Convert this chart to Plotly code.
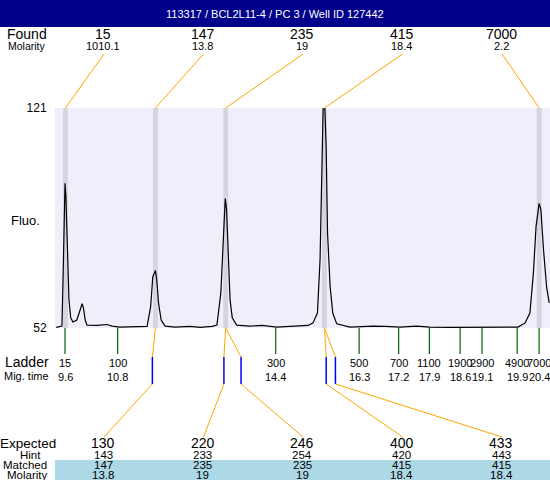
import plotly.graph_objects as go

TITLE = "113317 / BCL2L11-4 / PC 3 / Well ID 127442"

# Electropherogram trace (migration time, fluorescence)
mig_time = [9.40, 9.53, 9.56, 9.60, 9.62, 9.66, 9.69, 9.73, 9.78, 9.87,
            9.94, 9.99, 10.02, 10.06, 10.10, 10.33, 10.56, 10.67, 10.85, 11.20,
            11.47, 11.55, 11.60, 11.66, 11.69, 11.73, 11.79, 11.88, 12.11, 12.45,
            12.68, 12.95, 13.06, 13.15, 13.21, 13.25, 13.28, 13.32, 13.36, 13.41,
            13.51, 13.81, 14.09, 14.42, 14.95, 15.14, 15.25, 15.35, 15.41, 15.45,
            15.48, 15.52, 15.55, 15.58, 15.64, 15.70, 15.79, 16.09, 16.62, 16.89,
            17.23, 17.61, 17.91, 18.37, 18.94, 19.51, 19.92, 20.08, 20.19, 20.27,
            20.33, 20.40, 20.44, 20.50, 20.57, 20.63]
fluo = [52.2, 52.6, 70.3, 97.4, 93.3, 77.5, 60.8, 55.2, 53.9, 54.5,
        57.7, 59.6, 58.3, 54.5, 52.9, 52.8, 53.1, 52.6, 52.3, 52.3,
        52.5, 58.6, 68.1, 70.0, 67.1, 59.9, 54.5, 52.6, 52.3, 52.5,
        52.2, 52.5, 52.9, 63.0, 79.7, 92.6, 89.2, 73.4, 60.8, 55.2,
        52.9, 52.6, 52.8, 52.3, 52.6, 52.8, 53.6, 56.7, 73.4, 96.4,
        120.7, 120.7, 108.1, 81.9, 64.9, 56.7, 53.3, 52.3, 52.6, 52.5,
        52.3, 52.6, 52.3, 52.2, 52.2, 52.2, 52.3, 53.6, 56.7, 69.3,
        83.8, 91.1, 89.2, 76.6, 64.9, 59.9]

found_size = ["15", "147", "235", "415", "7000"]
found_molarity = ["1010.1", "13.8", "19", "18.4", "2.2"]
found_time = [9.61, 11.66, 13.26, 15.51, 20.40]

ladder_size = ["15", "100", "300", "500", "700", "1100", "1900", "2900", "4900", "7000"]
ladder_time = [9.6, 10.8, 14.4, 16.3, 17.2, 17.9, 18.6, 19.1, 19.9, 20.4]

expected_size = ["130", "220", "246", "400", "433"]
hint_size = ["143", "233", "254", "420", "443"]
matched_size = ["147", "235", "235", "415", "415"]
matched_molarity = ["13.8", "19", "19", "18.4", "18.4"]
expected_time = [11.59, 13.22, 13.61, 15.55, 15.76]
matched_found = [1, 2, 2, 3, 3]

Y_TICKS = [52, 121]
X_RANGE = [9.372, 20.648]

# ---- layout helpers (pixel layout positions -> paper / axis units) ----
W, H = 550, 480
L, R, T, B = 55, 0, 108, 152
PW, PH = W - L - R, H - T - B
SLOT_X = [103, 202.5, 302, 401.5, 501]


def py(y):
    return (H - B - y) / PH


def px(x):
    return (x - L) / PW


def px_t(x):
    return X_RANGE[0] + (x - L) / PW * (X_RANGE[1] - X_RANGE[0])


FONT = "Liberation Sans, Arial, sans-serif"
ORANGE = "#FFA500"

fig = go.Figure()
fig.add_trace(go.Scatter(x=mig_time, y=fluo, mode="lines",
                         line=dict(color="black", width=1.2),
                         hoverinfo="skip", showlegend=False))

shapes = []
annots = []

# header bar
shapes.append(dict(type="rect", xref="paper", yref="paper", x0=px(0), x1=px(W),
                   y0=py(0), y1=py(27), fillcolor="#00008B", line=dict(width=0), layer="above"))
annots.append(dict(text=TITLE, xref="paper", yref="paper", x=px(275), y=py(14),
                   xanchor="center", yanchor="middle",
                   showarrow=False, font=dict(color="white", size=11, family=FONT)))

# light blue band (matched / molarity rows)
shapes.append(dict(type="rect", xref="paper", yref="paper", x0=px(55), x1=px(W),
                   y0=py(460), y1=py(480), fillcolor="#ADD8E6", line=dict(width=0), layer="below"))

# grey bands at found peaks
for t in found_time:
    shapes.append(dict(type="rect", xref="x", yref="paper", x0=t - 0.055, x1=t + 0.055,
                       y0=0, y1=1, fillcolor="#D5D5E1", line=dict(width=0), layer="below"))


def lab(text, x, y, size, xanchor="center"):
    annots.append(dict(text=text, xref="paper", yref="paper", x=px(x), y=py(y),
                       xanchor=xanchor, yanchor="middle", showarrow=False,
                       font=dict(color="black", size=size, family=FONT)))


# top labels and connectors
lab("Found", 27, 34, 14)
lab("Molarity", 27, 46, 10.5)
for i, t in enumerate(found_time):
    lab(found_size[i], SLOT_X[i], 34, 14)
    lab(found_molarity[i], SLOT_X[i], 46, 11)
    shapes.append(dict(type="line", xref="x", yref="paper", x0=px_t(SLOT_X[i] + 1), y0=py(54),
                       x1=t, y1=1, line=dict(color=ORANGE, width=1)))

# ladder ticks and labels
lab("Ladder", 27, 362, 14)
lab("Mig. time", 26, 376, 11)
for s, t in zip(ladder_size, ladder_time):
    shapes.append(dict(type="line", xref="x", yref="paper", x0=t, x1=t, y0=0, y1=py(354),
                       line=dict(color="#006400", width=1.2)))
    annots.append(dict(text=s, xref="x", yref="paper", x=t, y=py(363), showarrow=False,
                       yanchor="middle", font=dict(color="black", size=11, family=FONT)))
    annots.append(dict(text=f"{t:g}", xref="x", yref="paper", x=t, y=py(377), showarrow=False,
                       yanchor="middle", font=dict(color="black", size=11, family=FONT)))

# expected connectors
for i, te in enumerate(expected_time):
    tp = found_time[matched_found[i]]
    shapes.append(dict(type="line", xref="x", yref="paper", x0=tp, y0=0, x1=te, y1=py(357),
                       line=dict(color=ORANGE, width=1)))
    shapes.append(dict(type="line", xref="x", yref="paper", x0=te, y0=py(357), x1=te, y1=py(384),
                       line=dict(color="#0000FF", width=1.5)))
    shapes.append(dict(type="line", xref="x", yref="paper", x0=te, y0=py(384),
                       x1=px_t(SLOT_X[i] + 1), y1=py(437), line=dict(color=ORANGE, width=1)))

lab("Expected", 28, 443, 13.5)
lab("Hint", 30, 455, 11.5)
lab("Matched", 25, 465, 11.5)
lab("Molarity", 27, 475, 11.5)
for i in range(len(expected_size)):
    lab(expected_size[i], SLOT_X[i], 443, 14)
    lab(hint_size[i], SLOT_X[i], 455, 11.5)
    lab(matched_size[i], SLOT_X[i], 465, 11.5)
    lab(matched_molarity[i], SLOT_X[i], 475, 11.5)

lab("Fluo.", 25, 220, 13)

fig.update_layout(
    width=W, height=H, margin=dict(l=L, r=R, t=T, b=B, pad=0),
    paper_bgcolor="white", plot_bgcolor="#EFEFFB",
    shapes=shapes, annotations=annots, showlegend=False,
    xaxis=dict(range=X_RANGE, visible=False, showgrid=False, zeroline=False),
    yaxis=dict(range=[Y_TICKS[0], Y_TICKS[1]], tickvals=Y_TICKS, ticktext=[str(v) for v in Y_TICKS],
               showgrid=False, zeroline=False, showline=False, ticks="outside", ticklen=5,
               tickcolor="rgba(0,0,0,0)", tickfont=dict(size=12, color="black", family=FONT)),
    font=dict(family=FONT),
)

fig.write_html("out.html", config={"displayModeBar": False},
               post_script="document.body.style.margin='0';document.body.style.padding='0';document.body.style.overflow='hidden';")
